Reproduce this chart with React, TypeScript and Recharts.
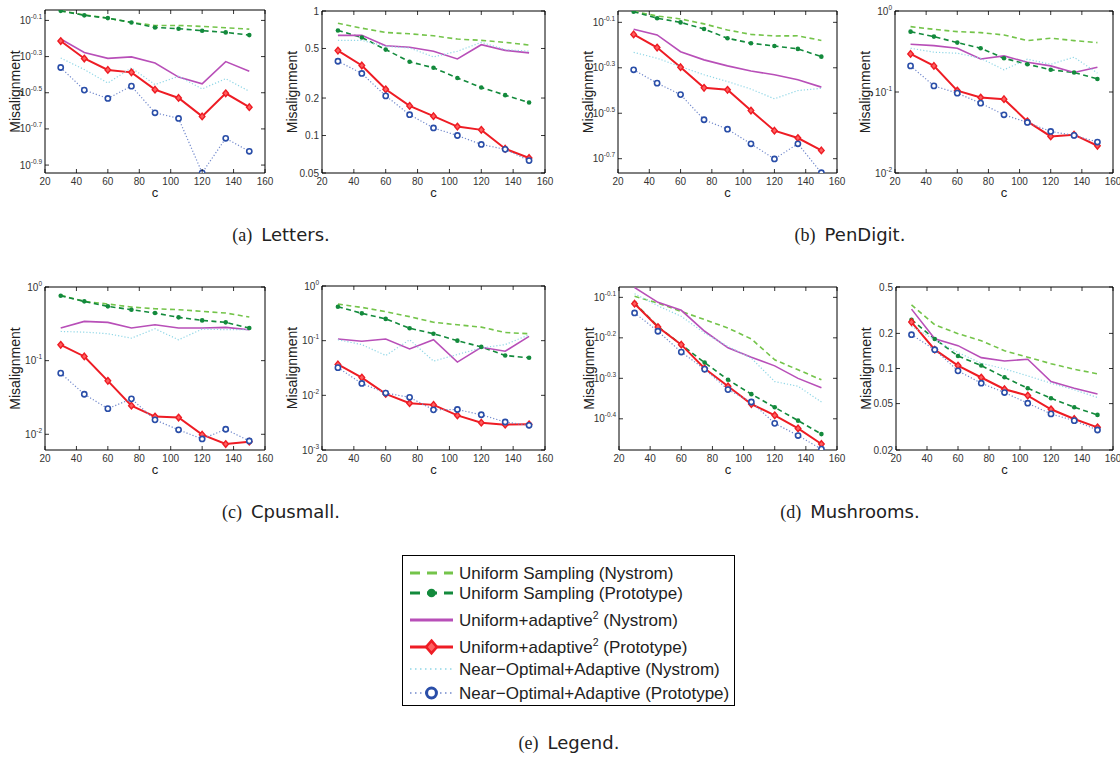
import React from "react";
import { LineChart, Line, XAxis, YAxis, ReferenceArea } from "recharts";

// sample sizes on the x axis
const C = [30, 45, 60, 75, 90, 105, 120, 135, 150];
const X_TICKS = [20, 40, 60, 80, 100, 120, 140, 160];

// (a) Letters, left panel
const lettersA_unifNys = [0.897, 0.853, 0.818, 0.774, 0.745, 0.745, 0.736, 0.724, 0.711];
const lettersA_unifProto = [0.897, 0.847, 0.818, 0.774, 0.726, 0.715, 0.697, 0.682, 0.659];
const lettersA_adaNys = [0.627, 0.528, 0.49, 0.499, 0.462, 0.386, 0.354, 0.47, 0.416];
const lettersA_adaProto = [0.611, 0.489, 0.423, 0.41, 0.329, 0.296, 0.234, 0.314, 0.263];
const lettersA_optNys = [0.492, 0.425, 0.358, 0.434, 0.351, 0.39, 0.332, 0.378, 0.322];
const lettersA_optProto = [0.436, 0.327, 0.294, 0.344, 0.245, 0.228, 0.114, 0.177, 0.15];

// (a) Letters, right panel
const lettersB_unifNys = [0.798, 0.728, 0.672, 0.656, 0.632, 0.595, 0.581, 0.56, 0.533];
const lettersB_unifProto = [0.698, 0.613, 0.49, 0.391, 0.35, 0.29, 0.243, 0.211, 0.184];
const lettersB_adaNys = [0.637, 0.637, 0.526, 0.511, 0.475, 0.412, 0.536, 0.483, 0.461];
const lettersB_adaProto = [0.481, 0.365, 0.235, 0.173, 0.143, 0.118, 0.111, 0.0783, 0.066];
const lettersB_optNys = [0.581, 0.581, 0.52, 0.505, 0.428, 0.475, 0.56, 0.49, 0.475];
const lettersB_optProto = [0.395, 0.315, 0.208, 0.147, 0.115, 0.1, 0.0848, 0.0774, 0.0629];

// (b) PenDigit, left panel
const penA_unifNys = [0.889, 0.847, 0.822, 0.782, 0.735, 0.703, 0.692, 0.693, 0.661];
const penA_unifProto = [0.885, 0.828, 0.794, 0.743, 0.676, 0.643, 0.625, 0.607, 0.561];
const penA_adaNys = [0.74, 0.699, 0.59, 0.543, 0.511, 0.485, 0.467, 0.444, 0.412];
const penA_adaProto = [0.703, 0.615, 0.504, 0.409, 0.401, 0.325, 0.265, 0.246, 0.217];
const penA_optNys = [0.586, 0.552, 0.507, 0.467, 0.436, 0.404, 0.366, 0.398, 0.407];
const penA_optProto = [0.491, 0.429, 0.382, 0.296, 0.269, 0.232, 0.199, 0.232, 0.173];

// (b) PenDigit, right panel
const penB_unifNys = [0.641, 0.594, 0.556, 0.541, 0.506, 0.431, 0.461, 0.431, 0.407];
const penB_unifProto = [0.556, 0.483, 0.407, 0.347, 0.261, 0.22, 0.188, 0.174, 0.145];
const penB_adaNys = [0.388, 0.374, 0.347, 0.256, 0.279, 0.233, 0.21, 0.174, 0.202];
const penB_adaProto = [0.295, 0.21, 0.104, 0.0855, 0.0816, 0.0434, 0.0283, 0.0297, 0.0217];
const penB_optNys = [0.347, 0.31, 0.301, 0.261, 0.188, 0.254, 0.22, 0.269, 0.171];
const penB_optProto = [0.21, 0.119, 0.0968, 0.0728, 0.0523, 0.0421, 0.0326, 0.0291, 0.0241];

// (c) Cpusmall, left panel
const cpuA_unifNys = [0.77, 0.638, 0.587, 0.535, 0.507, 0.492, 0.467, 0.443, 0.391];
const cpuA_unifProto = [0.762, 0.638, 0.546, 0.492, 0.443, 0.387, 0.352, 0.331, 0.277];
const cpuA_adaNys = [0.277, 0.341, 0.331, 0.277, 0.307, 0.277, 0.277, 0.283, 0.263];
const cpuA_adaProto = [0.164, 0.114, 0.0532, 0.0245, 0.0174, 0.0169, 0.00989, 0.00738, 0.00794];
const cpuA_optNys = [0.249, 0.244, 0.232, 0.202, 0.271, 0.192, 0.268, 0.263, 0.263];
const cpuA_optProto = [0.0676, 0.035, 0.0223, 0.0303, 0.0157, 0.0115, 0.00864, 0.0117, 0.00811];

// (c) Cpusmall, right panel
const cpuB_unifNys = [0.466, 0.406, 0.339, 0.275, 0.217, 0.195, 0.177, 0.141, 0.134];
const cpuB_unifProto = [0.417, 0.316, 0.25, 0.169, 0.134, 0.1, 0.0769, 0.0536, 0.0486];
const cpuB_adaNys = [0.107, 0.0973, 0.107, 0.0707, 0.104, 0.0406, 0.0758, 0.0641, 0.12];
const cpuB_adaProto = [0.0368, 0.0211, 0.0106, 0.00717, 0.00669, 0.00429, 0.00316, 0.00291, 0.00295];
const cpuB_optNys = [0.104, 0.0847, 0.0536, 0.104, 0.0423, 0.0558, 0.0737, 0.0847, 0.128];
const cpuB_optProto = [0.0321, 0.0165, 0.011, 0.0092, 0.00543, 0.00551, 0.00441, 0.00325, 0.00283];

// (d) Mushrooms, left panel
const mushA_unifNys = [0.799, 0.769, 0.733, 0.7, 0.667, 0.627, 0.557, 0.526, 0.497];
const mushA_unifProto = [0.769, 0.673, 0.607, 0.548, 0.497, 0.458, 0.425, 0.394, 0.365];
const mushA_adaNys = [0.84, 0.772, 0.738, 0.655, 0.596, 0.565, 0.538, 0.501, 0.475];
const mushA_adaProto = [0.766, 0.671, 0.607, 0.53, 0.479, 0.433, 0.406, 0.377, 0.345];
const mushA_optNys = [0.811, 0.757, 0.713, 0.648, 0.601, 0.562, 0.492, 0.479, 0.438];
const mushA_optProto = [0.727, 0.655, 0.582, 0.528, 0.47, 0.438, 0.388, 0.362, 0.335];

// (d) Mushrooms, right panel
const mushB_unifNys = [0.352, 0.237, 0.199, 0.173, 0.142, 0.125, 0.11, 0.0986, 0.09];
const mushB_unifProto = [0.262, 0.179, 0.128, 0.106, 0.0841, 0.0677, 0.0556, 0.0465, 0.04];
const mushB_adaNys = [0.323, 0.18, 0.157, 0.124, 0.116, 0.12, 0.0773, 0.0677, 0.0605];
const mushB_adaProto = [0.25, 0.145, 0.106, 0.0837, 0.0664, 0.0586, 0.0447, 0.0369, 0.0313];
const mushB_optNys = [0.23, 0.176, 0.137, 0.111, 0.0993, 0.0865, 0.0748, 0.0656, 0.0564];
const mushB_optProto = [0.195, 0.145, 0.0955, 0.0748, 0.0622, 0.0504, 0.0408, 0.0357, 0.0297];

// y axis ranges and ticks
const LETTERS_A_DOMAIN = [0.1138, 0.907];
const LETTERS_A_TICKS = [10 ** -0.9, 10 ** -0.7, 10 ** -0.5, 10 ** -0.3, 10 ** -0.1];
const LETTERS_B_DOMAIN = [0.05, 1];
const LETTERS_B_TICKS = [0.05, 0.1, 0.2, 0.5, 1];
const PEN_A_DOMAIN = [0.1726, 0.891];
const PEN_A_TICKS = [10 ** -0.7, 10 ** -0.5, 10 ** -0.3, 10 ** -0.1];
const PEN_B_DOMAIN = [0.01, 1];
const PEN_B_TICKS = [0.01, 0.1, 1];
const CPU_A_DOMAIN = [0.00612, 1];
const CPU_A_TICKS = [0.01, 0.1, 1];
const CPU_B_DOMAIN = [0.001, 1];
const CPU_B_TICKS = [0.001, 0.01, 0.1, 1];
const MUSH_A_DOMAIN = [0.3334, 0.8425];
const MUSH_A_TICKS = [10 ** -0.4, 10 ** -0.3, 10 ** -0.2, 10 ** -0.1];
const MUSH_B_DOMAIN = [0.02, 0.5];
const MUSH_B_TICKS = [0.02, 0.05, 0.1, 0.2, 0.5];

const LEGEND_LABELS = [
  ["Uniform Sampling (Nystrom)", "", ""],
  ["Uniform Sampling (Prototype)", "", ""],
  ["Uniform+adaptive", "2", " (Nystrom)"],
  ["Uniform+adaptive", "2", " (Prototype)"],
  ["Near\u2212Optimal+Adaptive (Nystrom)", "", ""],
  ["Near\u2212Optimal+Adaptive (Prototype)", "", ""],
];

const SANS = "'Liberation Sans', Arial, Helvetica, sans-serif";

const SERIES = [
  { key: "unifNys", color: "#74c44a", width: 1.6, dash: "5 3.5", marker: "none", lw: 3, ldash: "10 7" },
  { key: "unifProto", color: "#138a3c", width: 1.6, dash: "5 3.5", marker: "dot", lw: 3, ldash: "10 7" },
  { key: "adaNys", color: "#b84fb8", width: 1.6, dash: undefined, marker: "none", lw: 3, ldash: undefined },
  { key: "adaProto", color: "#ee1c24", width: 2, dash: undefined, marker: "diamond", lw: 3, ldash: undefined },
  { key: "optNys", color: "#8fd6e6", width: 1.2, dash: "1.2 2", marker: "none", lw: 1.6, ldash: "1.5 3.5" },
  { key: "optProto", color: "#7289cc", width: 1.2, dash: "1.2 2", marker: "circle", lw: 1.6, ldash: "1.5 3.5" },
];

const MARKER_BLUE = "#2a4ea8";

function drawMarker(kind: string, color: string, cx: number, cy: number, key: string, scale = 1) {
  if (kind === "dot") {
    return <circle key={key} cx={cx} cy={cy} r={2.3 * scale} fill={color} stroke="none" />;
  }
  if (kind === "diamond") {
    const h = 3.3 * scale;
    const w = 2.8 * scale;
    return (
      <path
        key={key}
        d={`M${cx},${cy - h}L${cx + w},${cy}L${cx},${cy + h}L${cx - w},${cy}Z`}
        fill="#ff6060"
        stroke={color}
        strokeWidth={1.4 * scale}
      />
    );
  }
  if (kind === "circle") {
    return <circle key={key} cx={cx} cy={cy} r={2.6 * scale} fill="#fff" stroke={MARKER_BLUE} strokeWidth={1.6 * scale} />;
  }
  return null;
}

const ML = 60;
const MT = 10;

function Panel({ left, right, top, bottom, domain, ticks, exp, values }: any) {
  const pw = right - left;
  const ph = bottom - top;
  const rows = C.map((c, i) => {
    const row: any = { c };
    SERIES.forEach((s, k) => {
      row[s.key] = values[k][i];
    });
    return row;
  });

  const xTick = (p: any) => {
    const x = p.x;
    return (
      <g key={`xt-${p.index}`}>
        <line x1={x} x2={x} y1={MT + ph} y2={MT + ph - 4} stroke="#000" strokeWidth={0.8} />
        <line x1={x} x2={x} y1={MT} y2={MT + 4} stroke="#000" strokeWidth={0.8} />
        <text x={x} y={MT + ph + 12} textAnchor="middle" fontSize={10} fill="#333" fontFamily={SANS}>
          {p.payload.value}
        </text>
      </g>
    );
  };

  const yTick = (p: any) => {
    const y = p.y;
    const v = p.payload.value;
    let label: React.ReactNode;
    if (exp) {
      const e = Math.round(Math.log10(v) * 10) / 10;
      const sup = e === 0 ? "0" : (e < 0 ? "-" : "") + Math.abs(e);
      label = (
        <>
          <tspan>10</tspan>
          <tspan dy={-5} fontSize={6.5}>
            {sup}
          </tspan>
        </>
      );
    } else {
      label = String(Math.round(v * 1000) / 1000);
    }
    return (
      <g key={`yt-${p.index}`}>
        <line x1={ML} x2={ML + 4} y1={y} y2={y} stroke="#000" strokeWidth={0.8} />
        <line x1={ML + pw - 4} x2={ML + pw} y1={y} y2={y} stroke="#000" strokeWidth={0.8} />
        <text x={ML - 3} y={y + 3.5} textAnchor="end" fontSize={10} fill="#333" fontFamily={SANS}>
          {label}
        </text>
      </g>
    );
  };

  const xLabel = () => (
    <text x={ML + pw / 2} y={MT + ph + 24} textAnchor="middle" fontSize={13} fill="#222" fontFamily={SANS}>
      c
    </text>
  );
  const yLabel = () => (
    <text
      x={30}
      y={MT + ph / 2}
      transform={`rotate(-90, 30, ${MT + ph / 2})`}
      textAnchor="middle"
      dominantBaseline="central"
      fontSize={14}
      fill="#222"
      fontFamily={SANS}
    >
      Misalignment
    </text>
  );

  return (
    <div style={{ position: "absolute", left: left - ML, top: top - MT }}>
      <LineChart width={pw + ML + 10} height={ph + MT + 40} data={rows} margin={{ top: MT, right: 10, left: 0, bottom: 0 }}>
        <XAxis
          dataKey="c"
          type="number"
          domain={[20, 160]}
          ticks={X_TICKS}
          interval={0}
          height={40}
          axisLine={false}
          tickLine={false}
          tick={xTick}
          label={{ content: xLabel }}
        />
        <YAxis
          type="number"
          scale="log"
          domain={domain}
          ticks={ticks}
          interval={0}
          width={ML}
          allowDataOverflow
          axisLine={false}
          tickLine={false}
          tick={yTick}
          label={{ content: yLabel }}
        />
        <ReferenceArea x1={20} x2={160} y1={domain[0]} y2={domain[1]} fill="none" stroke="#000" strokeWidth={1} ifOverflow="visible" />
        {SERIES.map((s) => (
          <Line
            key={s.key}
            dataKey={s.key}
            type="linear"
            stroke={s.color}
            strokeWidth={s.width}
            strokeDasharray={s.dash}
            isAnimationActive={false}
            dot={
              s.marker === "none"
                ? false
                : (d: any) => drawMarker(s.marker, s.color, d.cx, d.cy, `${s.key}-${d.index}`)
            }
            activeDot={false}
          />
        ))}
      </LineChart>
    </div>
  );
}

const PANELS = [
  { id: "la", left: 45, right: 265, top: 10, bottom: 173, domain: LETTERS_A_DOMAIN, ticks: LETTERS_A_TICKS, exp: true,
    values: [lettersA_unifNys, lettersA_unifProto, lettersA_adaNys, lettersA_adaProto, lettersA_optNys, lettersA_optProto] },
  { id: "lb", left: 322, right: 545, top: 11, bottom: 173, domain: LETTERS_B_DOMAIN, ticks: LETTERS_B_TICKS, exp: false,
    values: [lettersB_unifNys, lettersB_unifProto, lettersB_adaNys, lettersB_adaProto, lettersB_optNys, lettersB_optProto] },
  { id: "pa", left: 618, right: 837, top: 11, bottom: 173, domain: PEN_A_DOMAIN, ticks: PEN_A_TICKS, exp: true,
    values: [penA_unifNys, penA_unifProto, penA_adaNys, penA_adaProto, penA_optNys, penA_optProto] },
  { id: "pb", left: 895, right: 1113, top: 11, bottom: 173, domain: PEN_B_DOMAIN, ticks: PEN_B_TICKS, exp: true,
    values: [penB_unifNys, penB_unifProto, penB_adaNys, penB_adaProto, penB_optNys, penB_optProto] },
  { id: "ca", left: 45, right: 265, top: 287, bottom: 450, domain: CPU_A_DOMAIN, ticks: CPU_A_TICKS, exp: true,
    values: [cpuA_unifNys, cpuA_unifProto, cpuA_adaNys, cpuA_adaProto, cpuA_optNys, cpuA_optProto] },
  { id: "cb", left: 322, right: 545, top: 286, bottom: 450, domain: CPU_B_DOMAIN, ticks: CPU_B_TICKS, exp: true,
    values: [cpuB_unifNys, cpuB_unifProto, cpuB_adaNys, cpuB_adaProto, cpuB_optNys, cpuB_optProto] },
  { id: "ma", left: 619, right: 837, top: 287, bottom: 450, domain: MUSH_A_DOMAIN, ticks: MUSH_A_TICKS, exp: true,
    values: [mushA_unifNys, mushA_unifProto, mushA_adaNys, mushA_adaProto, mushA_optNys, mushA_optProto] },
  { id: "mb", left: 896, right: 1113, top: 287, bottom: 450, domain: MUSH_B_DOMAIN, ticks: MUSH_B_TICKS, exp: false,
    values: [mushB_unifNys, mushB_unifProto, mushB_adaNys, mushB_adaProto, mushB_optNys, mushB_optProto] },
];

const CAPTIONS = [
  { tag: "(a)", name: "Letters.", x: 281, y: 235 },
  { tag: "(b)", name: "PenDigit.", x: 850, y: 235 },
  { tag: "(c)", name: "Cpusmall.", x: 281, y: 512 },
  { tag: "(d)", name: "Mushrooms.", x: 850, y: 512 },
  { tag: "(e)", name: "Legend.", x: 569, y: 743 },
];

function LegendBox() {
  const rowY = [20, 40, 67, 94, 116, 140];
  return (
    <svg style={{ position: "absolute", left: 400, top: 553 }} width={340} height={156}>
      <rect x={2.5} y={2.5} width={332} height={150} fill="#fff" stroke="#000" strokeWidth={1} />
      {SERIES.map((s, i) => {
        const y = rowY[i];
        const [a, sup, b] = LEGEND_LABELS[i];
        return (
          <g key={s.key}>
            <line x1={10} x2={53} y1={y} y2={y} stroke={s.color} strokeWidth={s.lw} strokeDasharray={s.ldash} />
            {drawMarker(s.marker, s.color, 31.5, y, `lm-${i}`, 1.9)}
            <text x={59} y={y + 6} fontSize={17} fill="#222" fontFamily={SANS}>
              {a}
              {sup ? (
                <tspan dy={-7} fontSize={10.5}>
                  {sup}
                </tspan>
              ) : null}
              {b ? <tspan dy={7}>{b}</tspan> : null}
            </text>
          </g>
        );
      })}
    </svg>
  );
}

export default function App() {
  return (
    <div style={{ position: "absolute", left: 0, top: 0, width: 1120, height: 767, background: "#fff", overflow: "hidden" }}>
      {PANELS.map((p) => (
        <Panel key={p.id} {...p} />
      ))}
      {CAPTIONS.map((c) => (
        <div
          key={c.tag}
          style={{
            position: "absolute",
            left: c.x,
            top: c.y - 11,
            transform: "translateX(-50%)",
            whiteSpace: "nowrap",
            fontSize: 18,
            lineHeight: "22px",
            color: "#222",
          }}
        >
          <span style={{ fontFamily: "'Liberation Serif', 'DejaVu Serif', serif" }}>{c.tag}</span>
          <span style={{ fontFamily: "'DejaVu Sans', sans-serif", marginLeft: 9 }}>{c.name}</span>
        </div>
      ))}
      <LegendBox />
    </div>
  );
}
